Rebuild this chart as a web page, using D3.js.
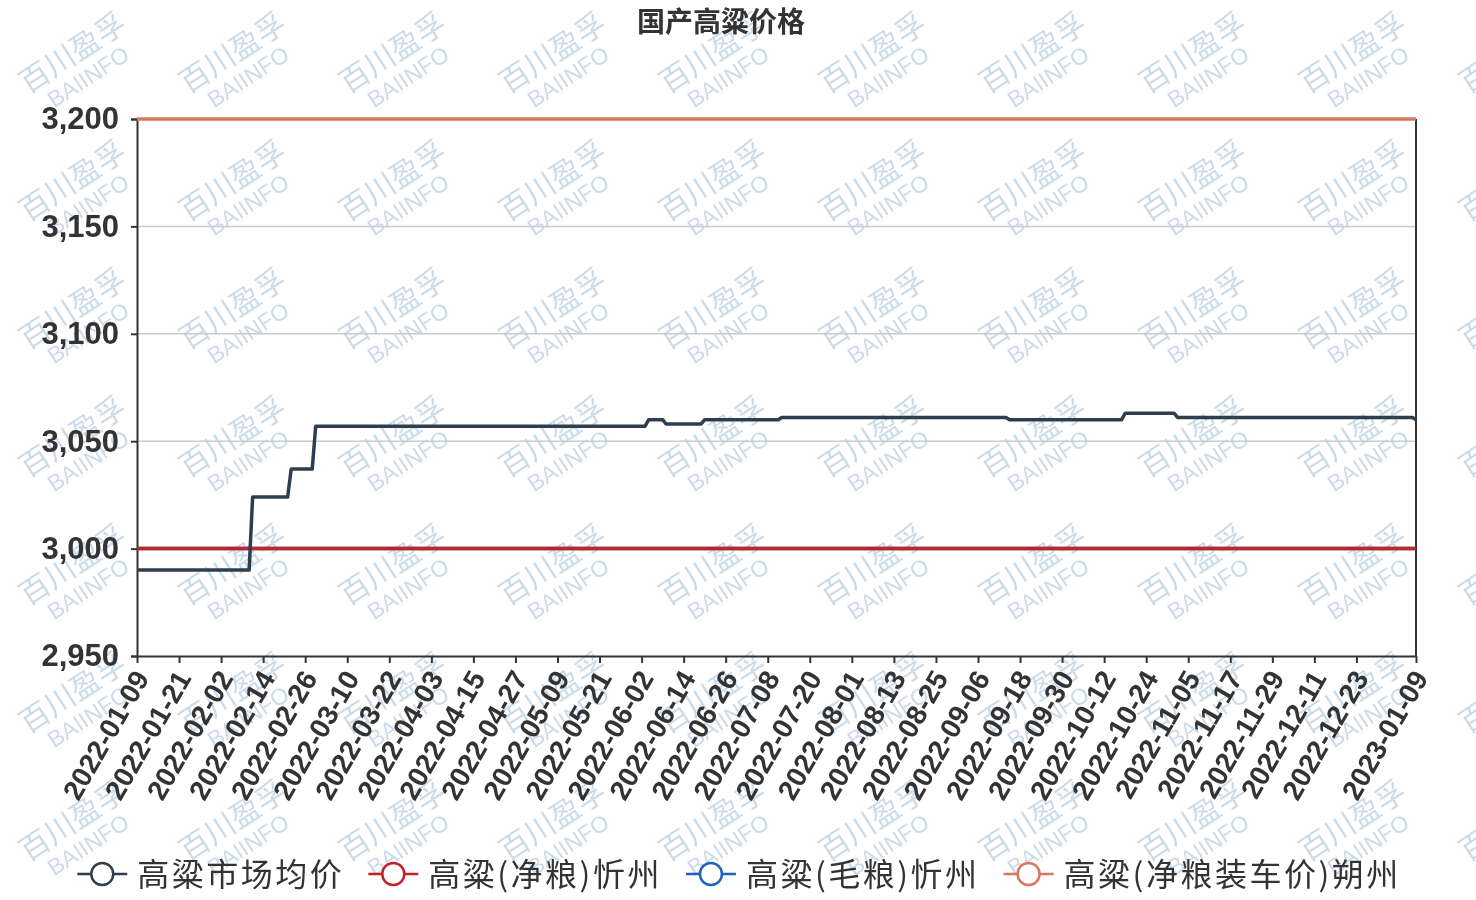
<!DOCTYPE html>
<html><head><meta charset="utf-8">
<script src="https://cdn.jsdelivr.net/npm/d3@7/dist/d3.min.js"></script>
<style>html,body{margin:0;padding:0;background:#fff;}svg{display:block;}</style>
</head><body>
<svg id="chart" width="1476" height="900"></svg>
<script>
const titleText = "国产高粱价格";
const startDate = "2022-01-09";
const endDate = "2023-01-09";
const seriesNames = ["高粱市场均价", "高粱(净粮)忻州", "高粱(毛粮)忻州", "高粱(净粮装车价)朔州"];
const seriesColors = ["#2e3e4e", "#c0232a", "#1f62c2", "#d9775e"];
const yTicks = [2950, 3000, 3050, 3100, 3150, 3200];
// 高粱市场均价: change points (date, value)
const avgDates = ["2022-01-09","2022-02-10","2022-02-11","2022-02-21","2022-02-22","2022-02-28","2022-03-01","2022-06-03","2022-06-04","2022-06-08","2022-06-09","2022-06-19","2022-06-20","2022-07-11","2022-07-12","2022-09-14","2022-09-15","2022-10-17","2022-10-18","2022-11-01","2022-11-02","2023-01-08","2023-01-09"];
const avgValues = [2990,2990,3024,3024,3037,3037,3057,3057,3060,3060,3058,3058,3060,3060,3061,3061,3060,3060,3063,3063,3061,3061,3060];
const xinzhouNetDates = ["2022-01-09","2023-01-09"];
const xinzhouNetValues = [3000,3000];
const xinzhouGrossDates = ["2022-01-09","2023-01-09"];
const xinzhouGrossValues = [3000,3000];
const shuozhouDates = ["2022-01-09","2023-01-09"];
const shuozhouValues = [3200,3200];
const watermarkMain = "百川盈孚";
const watermarkSub = "BAIINFO";

(function () {
const fmt = d3.timeFormat("%Y-%m-%d");
const parse = d3.timeParse("%Y-%m-%d");
const categories = d3.timeDay.range(parse(startDate), d3.timeDay.offset(parse(endDate), 1)).map(fmt);

const svg = d3.select("#chart");
const pl = 137, pr = 1416, pt = 119, pb = 656;
const x = d3.scalePoint().domain(categories).range([pl, pr]);
const y = d3.scaleLinear().domain([2950, 3200]).range([pb, pt]);

// watermark
const wm = svg.append("g").attr("fill", "#c6d7e8").attr("opacity", 0.9);
for (let r = 0; r < 7; r++) {
  for (let c = 0; c < 10; c++) {
    const cx = 74 + c * 160, cy = 55 + r * 128;
    const g = wm.append("g").attr("transform", `translate(${cx},${cy}) rotate(-33)`);
    g.append("text").attr("text-anchor", "middle").attr("y", 8)
      .attr("font-family", "Noto Sans CJK SC").attr("font-size", 30).text(watermarkMain);
    g.append("text").attr("text-anchor", "middle").attr("y", 34)
      .attr("font-family", "Liberation Sans, Arial").attr("font-size", 23).text(watermarkSub);
  }
}

// grid lines
svg.append("g").selectAll("line").data(yTicks.filter(v => v > 2950))
  .join("line").attr("x1", pl).attr("x2", pr)
  .attr("y1", d => y(d)).attr("y2", d => y(d))
  .attr("stroke", "#cccccc").attr("stroke-width", 1.5);

// axes
const yAxis = svg.append("g").attr("transform", `translate(${pl},0)`)
  .call(d3.axisLeft(y).tickValues(yTicks).tickSize(6).tickPadding(12).tickFormat(d3.format(",")));
yAxis.select(".domain").attr("stroke", "#333").attr("stroke-width", 2);
yAxis.selectAll(".tick line").attr("stroke", "#333").attr("stroke-width", 2);
yAxis.selectAll("text").attr("font-family", "Liberation Sans, Arial").attr("font-weight", "bold")
  .attr("font-size", 31).attr("fill", "#333");

svg.append("line").attr("x1", pr).attr("x2", pr).attr("y1", pt).attr("y2", pb)
  .attr("stroke", "#333").attr("stroke-width", 2);

const tickCats = categories.filter((d, i) => i % 12 === 0 && i <= 348).concat([categories[categories.length - 1]]);
const xAxis = svg.append("g").attr("transform", `translate(0,${pb})`)
  .call(d3.axisBottom(x).tickValues(tickCats).tickSize(7).tickSizeOuter(0));
xAxis.select(".domain").attr("stroke", "#333").attr("stroke-width", 2);
xAxis.selectAll(".tick line").attr("stroke", "#333").attr("stroke-width", 2);
xAxis.selectAll("text").attr("font-family", "Liberation Sans, Arial").attr("font-weight", "bold")
  .attr("font-size", 28).attr("fill", "#333")
  .attr("text-anchor", "end").attr("dy", "0.35em").attr("y", 0)
  .attr("transform", "translate(4,17) rotate(-60)");

// series
const line = d3.line().x(d => x(d[0])).y(d => y(d[1]));
const seriesData = [
  d3.zip(avgDates, avgValues),
  d3.zip(xinzhouNetDates, xinzhouNetValues),
  d3.zip(xinzhouGrossDates, xinzhouGrossValues),
  d3.zip(shuozhouDates, shuozhouValues)
];
const drawOrder = [2, 1, 3, 0];
drawOrder.forEach(i => {
  svg.append("path").datum(seriesData[i]).attr("d", line)
    .attr("fill", "none").attr("stroke", seriesColors[i]).attr("stroke-width", 3.5)
    .attr("stroke-linejoin", "round");
});

// title
svg.append("text").attr("x", 721).attr("y", 32).attr("text-anchor", "middle")
  .attr("font-family", "Noto Sans CJK SC").attr("font-weight", "bold").attr("font-size", 28)
  .attr("fill", "#333").text(titleText);

// legend
const lg = svg.append("g");
const items = [];
seriesNames.forEach((n, i) => {
  const g = lg.append("g");
  g.append("line").attr("x1", 0).attr("x2", 50).attr("y1", 0).attr("y2", 0)
    .attr("stroke", seriesColors[i]).attr("stroke-width", 2.5);
  g.append("circle").attr("cx", 25).attr("cy", 0).attr("r", 11)
    .attr("fill", "#fff").attr("stroke", seriesColors[i]).attr("stroke-width", 2.5);
  const t = g.append("text").attr("x", 60).attr("y", 0).attr("dy", "0.36em")
    .attr("font-family", "Noto Sans CJK SC").attr("font-size", 32).attr("letter-spacing", 2.5)
    .attr("fill", "#333").text(n);
  items.push({g, w: 60 + t.node().getComputedTextLength()});
});
const gap = 24;
const total = d3.sum(items, d => d.w) + gap * (items.length - 1);
let lx = 739 - total / 2;
items.forEach(it => { it.g.attr("transform", `translate(${lx},874)`); lx += it.w + gap; });
})();
</script>
</body></html>
